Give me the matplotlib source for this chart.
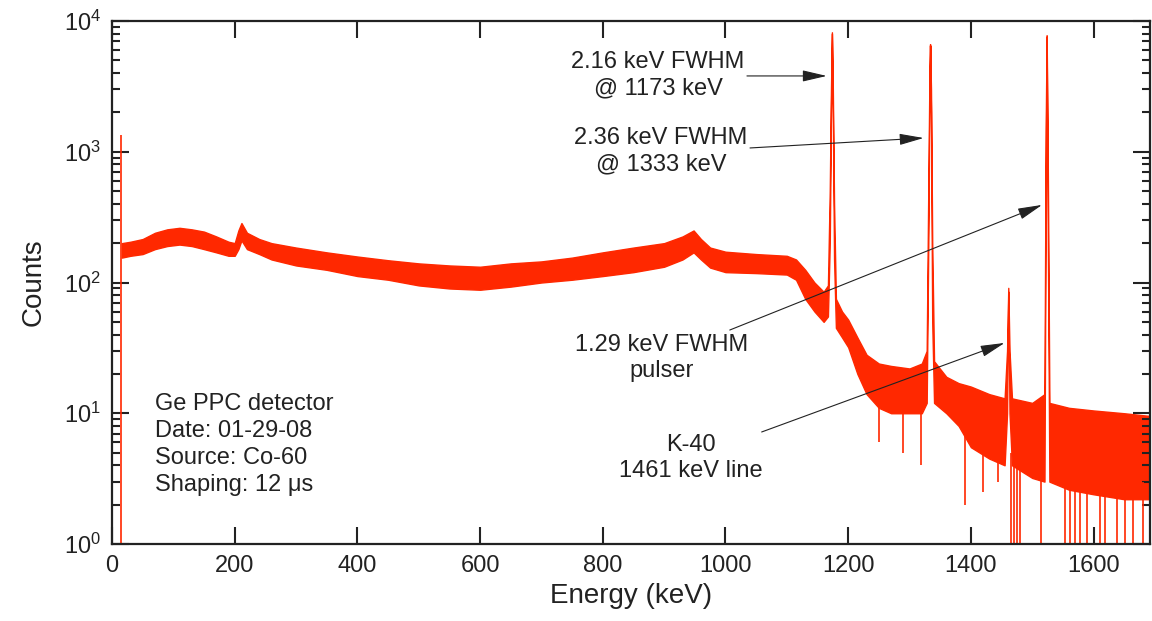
import matplotlib
matplotlib.use('Agg')
import matplotlib.pyplot as plt
import matplotlib.ticker as ticker

plt.rcParams['font.family'] = ['Liberation Sans', 'DejaVu Sans']
plt.rcParams['mathtext.fontset'] = 'custom'
plt.rcParams['mathtext.rm'] = 'Liberation Sans'

# spectrum envelope: energy (keV), lower and upper edge of the noisy band
energy = [16, 30, 50, 70, 90, 110, 130, 150, 170, 190, 200, 206, 211, 220, 240, 260,
          300, 350, 400, 450, 500, 550, 600, 650, 700, 750, 800, 850, 900, 930, 948,
          960, 975, 1000, 1050, 1100, 1115, 1130, 1145, 1160, 1167,
          1170, 1172, 1173.5, 1175, 1177, 1180, 1190, 1200, 1215, 1230, 1250, 1270,
          1300, 1320, 1328, 1331, 1332.5, 1333.5, 1335, 1337, 1340, 1360, 1380, 1400,
          1430, 1455, 1459, 1461, 1463, 1467, 1500, 1520, 1522, 1523.5, 1525, 1528,
          1560, 1600, 1650, 1695]
low = [155, 160, 165, 180, 190, 195, 190, 180, 170, 160, 160, 180, 210, 180, 165, 150,
       135, 125, 112, 105, 95, 90, 88, 93, 100, 105, 112, 120, 132, 150, 170,
       150, 130, 120, 118, 115, 105, 75, 60, 50, 55,
       200, 2000, 8000, 2000, 150, 45, 38, 32, 20, 14, 11, 10,
       10, 10, 12, 300, 3000, 6500, 2000, 50, 12, 10, 8, 5.5,
       4.5, 4, 10, 85, 10, 4, 3.2, 3, 500, 7600, 500, 3,
       2.6, 2.4, 2.2, 2.2]
high = [200, 205, 215, 240, 255, 262, 255, 245, 225, 205, 200, 250, 285, 240, 215, 200,
        185, 170, 158, 148, 140, 135, 132, 140, 145, 155, 170, 185, 200, 225, 250,
        215, 185, 172, 165, 160, 150, 125, 100, 85, 95,
        500, 3000, 8200, 3000, 400, 75, 60, 52, 38, 28, 24, 23,
        22, 24, 30, 800, 4000, 6650, 3000, 200, 25, 19, 17, 16,
        14, 13, 30, 91, 30, 13, 12, 14, 1500, 7800, 1500, 12,
        11, 10.5, 10, 9.5]

# single-channel spikes: low-energy cutoff spike and downward dips of the noise
spike_e = [15, 1250, 1290, 1318, 1390, 1420, 1445, 1466, 1470, 1475, 1480,
           1515, 1553, 1561, 1570, 1578, 1589, 1610, 1618, 1638, 1651, 1665, 1681]
spike_lo = [0.5, 6, 5, 4, 2.0, 2.5, 3.0, 0.5, 0.5, 0.5, 0.5,
            0.5, 0.5, 0.5, 0.5, 0.5, 0.5, 0.5, 0.5, 0.5, 0.5, 0.5, 0.5]
spike_hi = [1340, 12, 12, 12, 8, 7, 6, 5, 5, 5, 5,
            4, 3, 3, 3, 3, 3, 3, 3, 3, 3, 3, 3]

red = '#ff2800'
ink = '#222222'

fig = plt.figure(figsize=(11.52, 6.21), dpi=100)
ax = fig.add_axes([112/1152, 1 - 544/621, (1150 - 112)/1152, (544 - 21)/621])

ax.fill_between(energy, low, high, color=red, lw=1.0, edgecolor=red)
ax.vlines(spike_e, spike_lo, spike_hi, color=red, lw=1.2)

ax.set_yscale('log')
ax.set_xlim(0, 1692)
ax.set_ylim(1, 1e4)

ax.xaxis.set_major_locator(ticker.MultipleLocator(200))
ax.yaxis.set_major_locator(ticker.LogLocator(base=10, numticks=10))
ax.yaxis.set_minor_locator(ticker.LogLocator(base=10, subs=range(2, 10), numticks=10))
ax.yaxis.set_minor_formatter(ticker.NullFormatter())
ax.tick_params(which='both', direction='in', top=True, right=True, width=1.5, labelsize=17, colors=ink)
ax.tick_params(which='major', length=12, pad=8)
ax.tick_params(which='minor', length=6)
for s in ax.spines.values():
    s.set_linewidth(1.6)
    s.set_color(ink)

ax.set_xlabel('Energy (keV)', fontsize=20, color=ink, labelpad=4)
ax.set_ylabel('Counts', fontsize=20, color=ink, labelpad=12)

txt = dict(fontsize=17, color=ink, ha='center', va='center', linespacing=1.28)
arr = dict(arrowstyle='-|>,head_length=1.5,head_width=0.35', color=ink, lw=0.8,
           shrinkA=0, shrinkB=0, mutation_scale=10)

ax.text(890, 3860, '2.16 keV FWHM\n@ 1173 keV', **txt)
ax.annotate('', xy=(1165, 3800), xytext=(1035, 3800), arrowprops=arr)
ax.text(895, 1013, '2.36 keV FWHM\n@ 1333 keV', **txt)
ax.annotate('', xy=(1323, 1274), xytext=(1040, 1069), arrowprops=arr)
ax.text(896, 26.5, '1.29 keV FWHM\npulser', **txt)
ax.annotate('', xy=(1516, 392), xytext=(1007, 43.3), arrowprops=arr)
ax.text(944, 4.55, 'K-40\n1461 keV line', **txt)
ax.annotate('', xy=(1455, 34.5), xytext=(1059, 7.19), arrowprops=arr)

ax.text(70, 14.2, 'Ge PPC detector\nDate: 01-29-08\nSource: Co-60\nShaping: 12 μs',
        fontsize=17, color=ink, ha='left', va='top', linespacing=1.28)

fig.savefig('out.png', dpi=100)
